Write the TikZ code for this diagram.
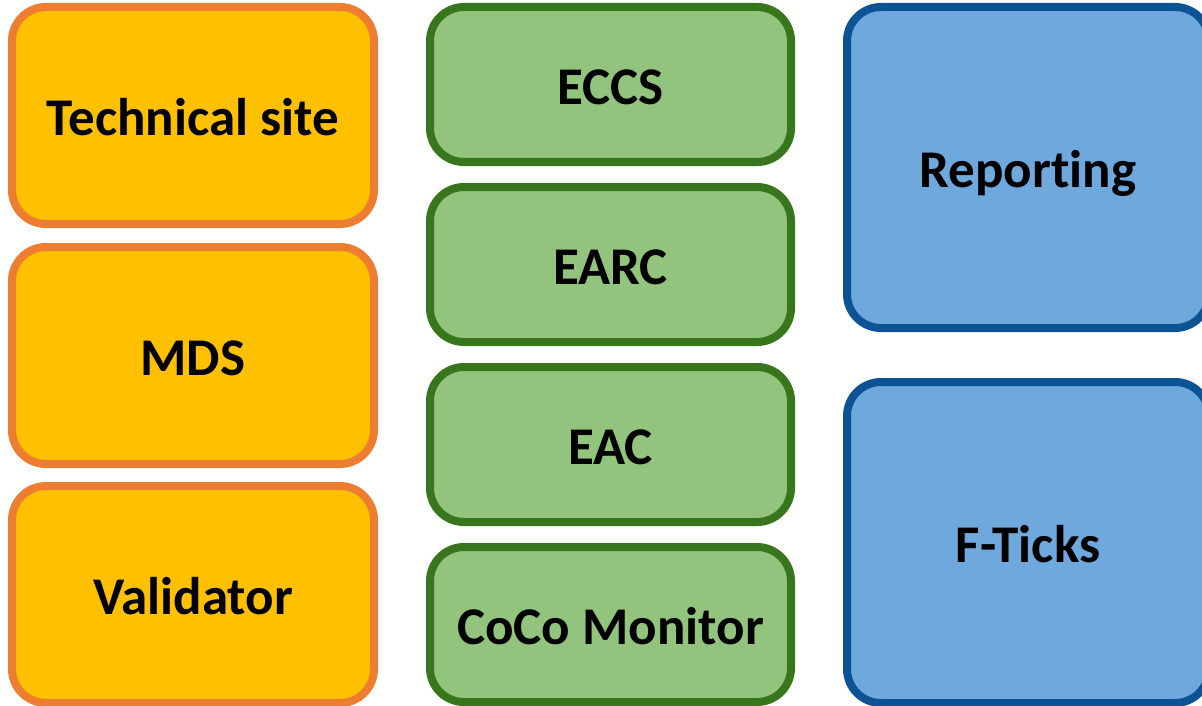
\documentclass[tikz,border=0pt]{standalone}
\usepackage{fontspec}
\setmainfont{Carlito}[Ligatures=NoCommon]
\usepackage{tikz}
\usetikzlibrary{positioning}

\definecolor{siteFill}{HTML}{FFC000}
\definecolor{siteLine}{HTML}{ED7D31}
\definecolor{toolFill}{HTML}{93C47D}
\definecolor{toolLine}{HTML}{38761D}
\definecolor{statFill}{HTML}{6FA8DC}
\definecolor{statLine}{HTML}{0B5394}

\begin{document}
\begin{tikzpicture}[x=1pt, y=-1pt,
	box/.style={draw, line width=8pt, rounded corners=34pt, inner sep=0pt, text height=44pt, text depth=4pt, font=\bfseries\fontsize{53}{60}\selectfont},
	site/.style={box, fill=siteFill, draw=siteLine, minimum width=362pt, minimum height=217pt},
	tool/.style={box, fill=toolFill, draw=toolLine, minimum width=361pt, minimum height=155pt},
	stat/.style={box, fill=statFill, draw=statLine, minimum width=362pt, minimum height=321pt}]
		\useasboundingbox (0,0) rectangle (1202,706);
		\clip (0,0) rectangle (1202,706);
		
		\node[site] (tech) at (193, 115.5) {Technical site};
		\node[site] (mds) at (193, 355.5) {MDS};
		\node[site] (valid) at (193, 594.5) {Validator};
		
		\node[tool] (eccs) at (610.5, 84.5) {ECCS};
		\node[tool] (earc) at (610.5, 264.5) {EARC};
		\node[tool] (eac) at (610.5, 444.5) {EAC};
		\node[tool] (coco) at (610.5, 624.5) {CoCo Monitor};
		
		\node[stat] (report) at (1028, 167.5) {Reporting};
		\node[stat] (fticks) at (1028, 542.5) {F-Ticks};
	\end{tikzpicture}
\end{document}
